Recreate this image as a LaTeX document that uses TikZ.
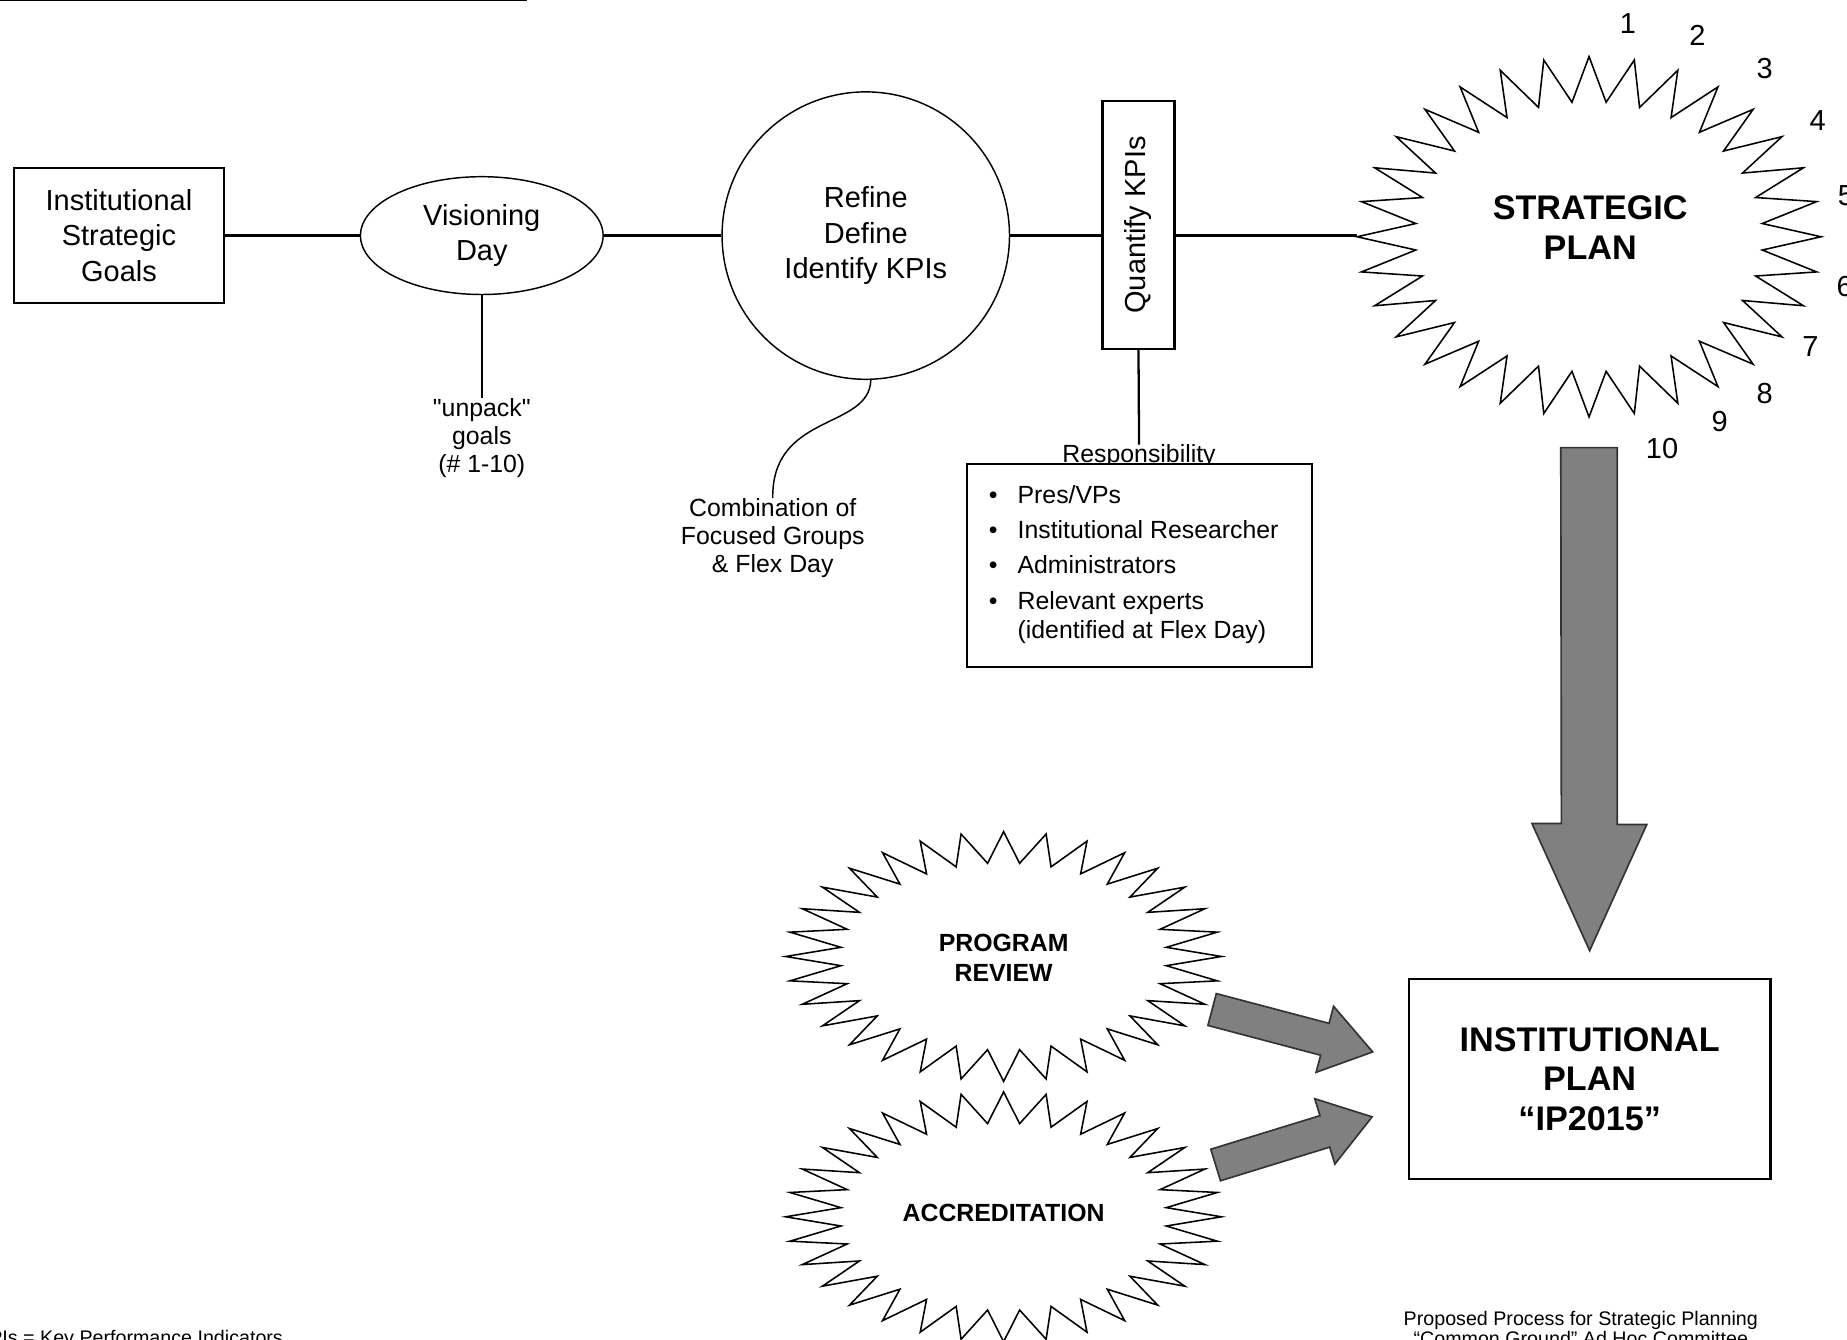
\documentclass[tikz,border=0pt]{standalone}
\usepackage{fontspec}
\setmainfont{Liberation Sans}
\usepackage{graphicx}
\usetikzlibrary{shapes.geometric,calc}

\definecolor{arrowgray}{RGB}{128,128,128}

% straight double quote, past the TeX mapping
\newcommand{\sq}{\XeTeXglyph\XeTeXcharglyph"22\relax}

% zig-zag star: centre x, centre y, radius x, radius y
\newcommand{\zigstar}[4]{%
  \draw[starline] plot[samples=65, domain=0:64, variable=\k]
    ({#1+ifthenelse(mod(round(\k),2)==0,1,0.75)*#3*cos(90+5.625*\k)},
     {#2-ifthenelse(mod(round(\k),2)==0,1,0.75)*#4*sin(90+5.625*\k)}) -- cycle;}

\begin{document}
\begin{tikzpicture}[x=0.2mm, y=-0.2mm,
  every node/.style={inner sep=0pt, align=center},
  mainfont/.style={font=\fontsize{14}{17}\selectfont},
  smallfont/.style={font=\fontsize{12}{13.6}\selectfont},
  bigbold/.style={font=\fontsize{16.5}{19.2}\selectfont\bfseries},
  thickbox/.style={draw, line width=1.1pt},
  thinround/.style={draw, line width=0.7pt},
  link/.style={line width=1.1pt},
  starline/.style={line width=0.75pt, line join=miter},
  blockarrow/.style={fill=arrowgray, draw=black!80, line width=0.8pt, line join=miter}]
\useasboundingbox (0,0) rectangle (1568,1137);

 \draw[line width=1.4pt] (0,0) -- (447,0);

 % top row
 \node[thickbox, mainfont, minimum width=35.6mm, minimum height=23mm] (isg) at (101,200) {Institutional\\Strategic\\Goals};
 \node[thinround, ellipse, mainfont, minimum width=41.2mm, minimum height=20mm] (vis) at (409,200) {Visioning\\Day};
 \node[thinround, circle, mainfont, minimum size=48.8mm] (kpi) at (735,200) {Refine\\Define\\Identify KPIs};
 \node[thickbox, mainfont, minimum width=12.2mm, minimum height=42mm] (quant) at (966.5,191) {\rotatebox{90}{Quantify KPIs}};
 \coordinate (sp-w) at (1152,200);
 \node[bigbold] (sp) at (1350,193) {STRATEGIC\\PLAN};
 \zigstar{1349}{201}{197}{153}

 \draw[link] (isg) -- (vis);
 \draw[link] (vis) -- (kpi);
 \draw[link] (kpi.east) -- (kpi.east -| quant.west);
 \draw[link] (quant.east |- sp-w) -- (sp-w);

 % notes under the row
 \node[smallfont] (unpack) at (409,372) {\sq unpack\sq\\goals\\(\# 1-10)};
 \draw[link] (vis.south) -- (unpack.north);
 \node[smallfont] (comb) at (656,457) {Combination of\\Focused Groups\\\& Flex Day};
 \draw[line width=0.7pt] (kpi.-88) .. controls (738,365) and (655,350) .. (comb.north);

 \node[smallfont, anchor=base] (resp-t) at (967,393) {Responsibility};
 \draw[link] (quant.south) -- (resp-t.north);
 \node[thickbox, fill=white, smallfont, minimum width=58.6mm, minimum height=34.4mm, anchor=north west] (resp) at (820,393)
   {\begin{tabular}{@{}c@{\hspace{3.4mm}}l@{\hspace{2mm}}}
     \textbullet & Pres/VPs\\[3.4pt]
     \textbullet & Institutional Researcher\\[3.4pt]
     \textbullet & Administrators\\[3.4pt]
     \textbullet & Relevant experts\\[0.6pt]
                 & (identified at Flex Day)
    \end{tabular}};

 % goal numbers
 \foreach \n/\x/\y in {1/1382/20, 2/1441/30, 3/1498/58, 4/1543/102, 5/1567/166,
                       6/1566/243, 7/1537/294, 8/1498/334, 9/1460/358, 10/1411/381}
   \node[mainfont] (num\n) at (\x,\y) {\n};

 % institutional plan
 \node[thickbox, bigbold, minimum width=61.4mm, minimum height=34mm] (ip) at (1349.5,916) {INSTITUTIONAL\\PLAN\\“IP2015”};
 \coordinate (sp-tail) at (1349,380);
 \draw[blockarrow] (sp-tail) ++(-24,0) -- ++(48,0) -- ++(0,320) -- ++(25,0)
   -- ($(ip.north)+(0,-23)$) -- ++(-49,-108) -- ++(25,0) -- cycle;

 % program review and accreditation
 \node[font=\fontsize{12}{14.7}\selectfont\bfseries] (pr) at (852,813) {PROGRAM\\REVIEW};
 \zigstar{852}{812}{185}{106}
 \node[font=\fontsize{12}{14.7}\selectfont\bfseries] (acc) at (852,1030) {ACCREDITATION};
 \zigstar{852}{1033}{185}{106}

 \coordinate (pr-tail) at (1029,857);
 \begin{scope}[shift={(pr-tail)}, rotate=-14.8]
  \draw[blockarrow] (0,-14) -- (99,-14) -- (99,-29) -- (141,0) -- (99,29) -- (99,14) -- (0,14) -- cycle;
 \end{scope}
 \coordinate (acc-tail) at (1032,989);
 \begin{scope}[shift={(acc-tail)}, rotate=17.1]
  \draw[blockarrow] (0,-14) -- (97,-14) -- (97,-29) -- (139,0) -- (97,29) -- (97,14) -- (0,14) -- cycle;
 \end{scope}

 % footers
 \node[font=\fontsize{9.5}{9.8}\selectfont] (note) at (1342,1127.5) {Proposed Process for Strategic Planning\\“Common Ground” Ad Hoc Committee};
 \node[font=\fontsize{9.5}{11}\selectfont, anchor=base west] (key) at (-20.5,1141) {KPIs = Key Performance Indicators};
\end{tikzpicture}
\end{document}
